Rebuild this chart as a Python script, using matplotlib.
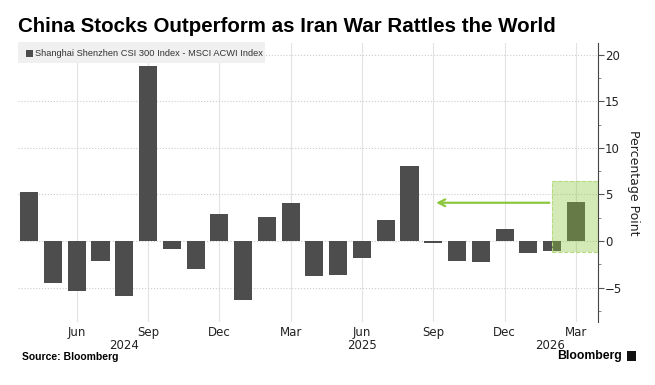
import matplotlib.pyplot as plt
from matplotlib.patches import Rectangle
import numpy as np

# monthly spread, Apr 2024 .. Mar 2026 (percentage points)
months = ['Apr 24', 'May 24', 'Jun 24', 'Jul 24', 'Aug 24', 'Sep 24', 'Oct 24', 'Nov 24',
          'Dec 24', 'Jan 25', 'Feb 25', 'Mar 25', 'Apr 25', 'May 25', 'Jun 25', 'Jul 25',
          'Aug 25', 'Sep 25', 'Oct 25', 'Nov 25', 'Dec 25', 'Jan 26', 'Feb 26', 'Mar 26']
spread = [5.3, -4.5, -5.4, -2.1, -5.9, 18.8, -0.9, -3.0, 2.9, -6.3, 2.6, 4.1,
          -3.8, -3.7, -1.8, 2.3, 8.0, -0.25, -2.1, -2.3, 1.3, -1.3, -1.1, 4.2]

tick_labels = ['Jun', 'Sep', 'Dec', 'Mar', 'Jun', 'Sep', 'Dec', 'Mar']
tick_pos = [2, 5, 8, 11, 14, 17, 20, 23]
year_labels = ['2024', '2025', '2026']
year_pos = [4.0, 14.0, 21.9]

x = np.arange(len(spread))

fig = plt.figure(figsize=(6.55, 3.85), dpi=100)
ax = fig.add_axes([18 / 655, 1 - 322 / 385, (598 - 18) / 655, (322 - 43) / 385])

ax.bar(x, spread, width=0.76, color='#4d4d4d', zorder=2)

# translucent highlight box over the latest bars
ax.add_patch(Rectangle((22.0, -1.15), 1.93, 7.55, facecolor='#8dc63f', alpha=0.38,
                       edgecolor='none', zorder=3))
ax.add_patch(Rectangle((22.0, -1.15), 1.93, 7.55, facecolor='none', edgecolor='#b5db7e',
                       linestyle='--', linewidth=0.8, zorder=3))

ax.annotate('', xy=(17.0, 4.1), xytext=(22.0, 4.1),
            arrowprops=dict(arrowstyle='->', color='#8dc63f', lw=1.6, mutation_scale=12), zorder=4)

ax.set_xlim(-0.47, 23.93)
ax.set_ylim(-8.7, 21.25)

ax.yaxis.tick_right()
ax.yaxis.set_label_position('right')
ax.set_yticks([-5, 0, 5, 10, 15, 20])
ax.set_yticks(np.arange(-7.5, 21, 2.5), minor=True)
ax.tick_params(axis='y', which='major', length=4, color='#555555', labelsize=8.5, labelcolor='#222222', pad=1)
ax.tick_params(axis='y', which='minor', length=2, color='#777777')
ax.set_ylabel('Percentage Point', rotation=-90, labelpad=13, fontsize=9, color='#222222')

ax.set_xticks(tick_pos)
ax.set_xticklabels(tick_labels)
ax.tick_params(axis='x', length=0, labelsize=8.5, labelcolor='#222222', pad=3)
for lbl, p in zip(year_labels, year_pos):
    ax.text(p, -0.062, lbl, transform=ax.get_xaxis_transform(), ha='center', va='top',
            fontsize=8.5, color='#222222')

for s in ['top', 'left', 'bottom']:
    ax.spines[s].set_visible(False)
ax.spines['right'].set_color('#444444')
ax.spines['right'].set_linewidth(0.8)

ax.grid(axis='y', which='major', color='#cccccc', linestyle=':', linewidth=0.8, zorder=0)
ax.grid(axis='x', color='#e3e3e3', linestyle='-', linewidth=0.8, zorder=0)
ax.set_axisbelow(True)

# legend strip
fig.patches.append(Rectangle((18 / 655, 1 - 63 / 385), 247 / 655, 21 / 385,
                             transform=fig.transFigure, facecolor='#f0f0f0', edgecolor='none'))
fig.patches.append(Rectangle((26 / 655, 1 - 57 / 385), 7 / 655, 7 / 385,
                             transform=fig.transFigure, facecolor='#4d4d4d', edgecolor='none'))
fig.text(35 / 655, 1 - 53 / 385, 'Shanghai Shenzhen CSI 300 Index - MSCI ACWI Index',
         fontsize=6.7, family='Liberation Sans', color='#333333', va='center')

fig.text(18 / 655, 1 - 27 / 385, 'China Stocks Outperform as Iran War Rattles the World',
         fontsize=14.8, family='Liberation Sans', fontweight='bold', color='#000000', va='center')
fig.text(22 / 655, 1 - 357 / 385, 'Source: Bloomberg', fontsize=7.5, family='Liberation Sans',
         fontweight='bold', va='center')
fig.text(622 / 655, 1 - 356 / 385, 'Bloomberg', fontsize=8.8, family='Liberation Sans',
         fontweight='bold', ha='right', va='center')
fig.patches.append(Rectangle((627 / 655, 1 - 361 / 385), 9 / 655, 10 / 385,
                             transform=fig.transFigure, facecolor='#111111', edgecolor='none'))

plt.savefig('out.png', dpi=100)
